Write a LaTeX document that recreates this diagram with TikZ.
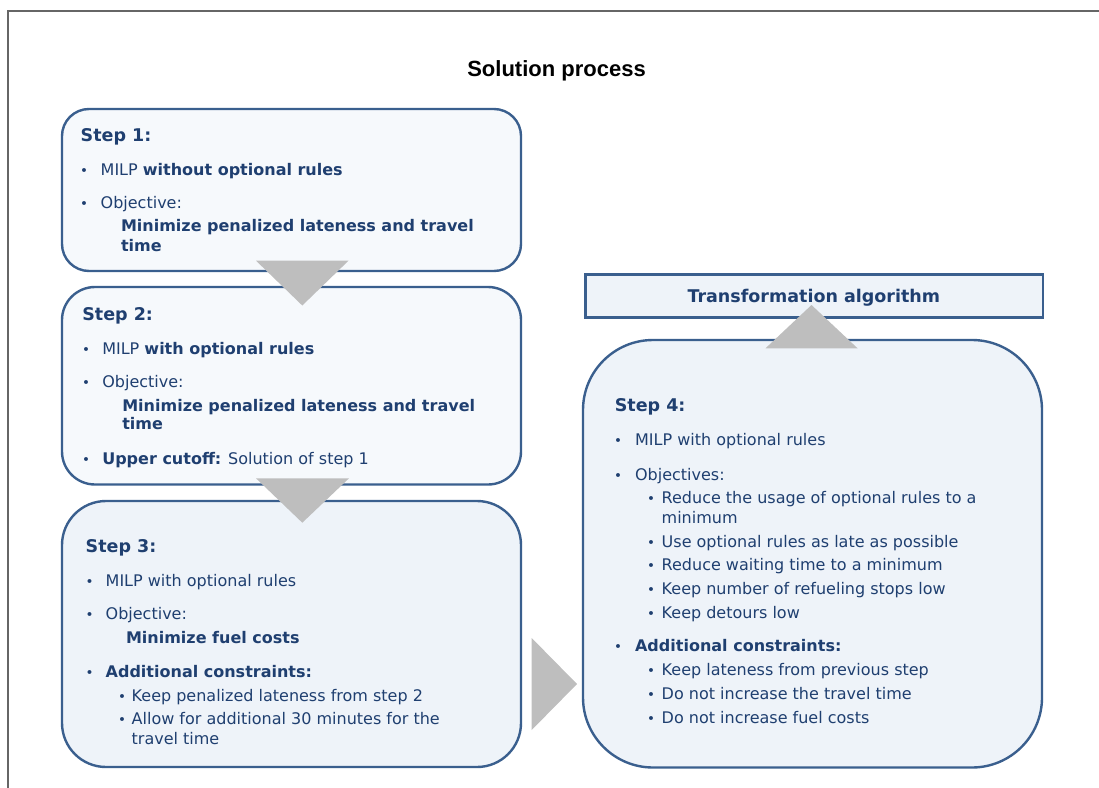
\documentclass[tikz,border=0pt]{standalone}
\usepackage{fontspec}
\setmainfont{DejaVu Sans}
\newfontfamily\titlefont{Liberation Sans}
\definecolor{framegray}{HTML}{666666}
\definecolor{boxblue}{HTML}{3A5F8E}
\definecolor{fillA}{HTML}{F6F9FC}
\definecolor{fillB}{HTML}{EEF3F9}
\definecolor{navy}{HTML}{1F3F70}
\definecolor{trigray}{HTML}{BEBEBE}
\tikzset{
  box/.style={draw=boxblue, line width=2.4pt, rectangle, inner sep=0pt, outer sep=0pt, anchor=north west},
  txt/.style={anchor=base west, inner sep=0pt, outer sep=0pt, text=navy, font=\fontsize{16}{20}\selectfont},
  bld/.style={anchor=base west, inner sep=0pt, outer sep=0pt, text=navy, font=\fontsize{16}{20}\selectfont\bfseries},
  head/.style={anchor=base west, inner sep=0pt, outer sep=0pt, text=navy, font=\fontsize{17.5}{21}\selectfont\bfseries},
  bul/.style={anchor=base, inner sep=0pt, outer sep=0pt, text=navy, font=\fontsize{13.5}{15}\selectfont},
  tri/.style={fill=trigray}
}
\begin{document}
\begin{tikzpicture}[x=1pt,y=-1pt]
\useasboundingbox (0,0) rectangle (1099,787);
% frame
\draw[framegray, line width=2pt] (8,790) -- (8,10.5) -- (1102,10.5);
% title
\node[anchor=base, inner sep=0pt, font=\titlefont\fontsize{22}{26}\selectfont\bfseries, text=black] (title) at (556.5,76) {Solution process};
% boxes
\node[box, fill=fillA, rounded corners=27pt, minimum width=459pt, minimum height=162pt] (s1) at (62,109) {};
\node[box, fill=fillA, rounded corners=33pt, minimum width=459pt, minimum height=197.5pt] (s2) at (62,287) {};
\node[box, fill=fillB, rounded corners=44pt, minimum width=459pt, minimum height=266pt] (s3) at (62,501) {};
\node[box, fill=fillB, rounded corners=70pt, minimum width=459pt, minimum height=427.5pt] (s4) at (583,340) {};
\node[box, fill=fillB, minimum width=457.5pt, minimum height=43pt] (ta) at (585.5,274.5) {};
% arrows (triangles)
\fill[tri] (256,260.7) -- (348.5,260.7) -- (302.3,305.5) -- cycle;
\fill[tri] (256,478.3) -- (349,478.3) -- (302.3,522.7) -- cycle;
\fill[tri] (531.7,638) -- (531.7,730) -- (577,684) -- cycle;
\fill[tri] (765.5,348.3) -- (857.6,348.3) -- (811.5,305) -- cycle;
% transformation label
\node[anchor=base, inner sep=0pt, text=navy, font=\fontsize{17.5}{21}\selectfont\bfseries] (talabel) at (813.8,302.7) {Transformation algorithm};
% Step 1
\node[head] (h1) at (80.7,141.5) {Step 1:};
\node[bul] (b11) at (84,175) {•};
\node[txt] (t11) at (100.7,175) {MILP \textbf{without optional rules}};
\node[bul] (b12) at (84,208.3) {•};
\node[txt] (t12) at (100.7,208.3) {Objective:};
\node[bld] (t13) at (121,231.7) {Minimize penalized lateness and travel};
\node[bld] (t14) at (121,251.7) {time};
% Step 2
\node[head] (h2) at (82.3,320) {Step 2:};
\node[bul] (b21) at (86,354) {•};
\node[txt] (t21) at (102.3,354) {MILP \textbf{with optional rules}};
\node[bul] (b22) at (86,387.3) {•};
\node[txt] (t22) at (102.3,387.3) {Objective:};
\node[bld] (t23) at (122.3,411.7) {Minimize penalized lateness and travel};
\node[bld] (t24) at (122.3,429.3) {time};
\node[bul] (b23) at (86,464) {•};
\node[txt] (t25) at (102.3,464) {\textbf{Upper cutoff:} Solution of step 1};
% Step 3
\node[head] (h3) at (85.7,552.3) {Step 3:};
\node[bul] (b31) at (89.5,586) {•};
\node[txt] (t31) at (105.7,586) {MILP with optional rules};
\node[bul] (b32) at (89.5,619) {•};
\node[txt] (t32) at (105.7,619) {Objective:};
\node[bld] (t33) at (126,643.3) {Minimize fuel costs};
\node[bul] (b33) at (89.5,677.3) {•};
\node[bld] (t34) at (105.7,677.3) {Additional constraints:};
\node[bul] (b34) at (122,701.7) {•};
\node[txt] (t35) at (131.7,701.7) {Keep penalized lateness from step 2};
\node[bul] (b35) at (122,724.3) {•};
\node[txt] (t36) at (131.7,724.3) {Allow for additional 30 minutes for the};
\node[txt] (t37) at (131.7,744) {travel time};
% Step 4
\node[head] (h4) at (614.8,411.7) {Step 4:};
\node[bul] (b41) at (618,445) {•};
\node[txt] (t41) at (635.1,445) {MILP with optional rules};
\node[bul] (b42) at (618,480) {•};
\node[txt] (t42) at (635.1,480) {Objectives:};
\node[bul] (b43) at (651,503.3) {•};
\node[txt] (t43) at (661.7,503.3) {Reduce the usage of optional rules to a};
\node[txt] (t44) at (661.7,523.3) {minimum};
\node[bul] (b44) at (651,547.3) {•};
\node[txt] (t45) at (661.7,547.3) {Use optional rules as late as possible};
\node[bul] (b45) at (651,570) {•};
\node[txt] (t46) at (661.7,570) {Reduce waiting time to a minimum};
\node[bul] (b46) at (651,594) {•};
\node[txt] (t47) at (661.7,594) {Keep number of refueling stops low};
\node[bul] (b47) at (651,618.3) {•};
\node[txt] (t48) at (661.7,618.3) {Keep detours low};
\node[bul] (b48) at (618,651.7) {•};
\node[bld] (t49) at (635.1,651.7) {Additional constraints:};
\node[bul] (b49) at (651,675) {•};
\node[txt] (t410) at (661.7,675) {Keep lateness from previous step};
\node[bul] (b410) at (651,699) {•};
\node[txt] (t411) at (661.7,699) {Do not increase the travel time};
\node[bul] (b411) at (651,723.3) {•};
\node[txt] (t412) at (661.7,723.3) {Do not increase fuel costs};
\end{tikzpicture}
\end{document}
